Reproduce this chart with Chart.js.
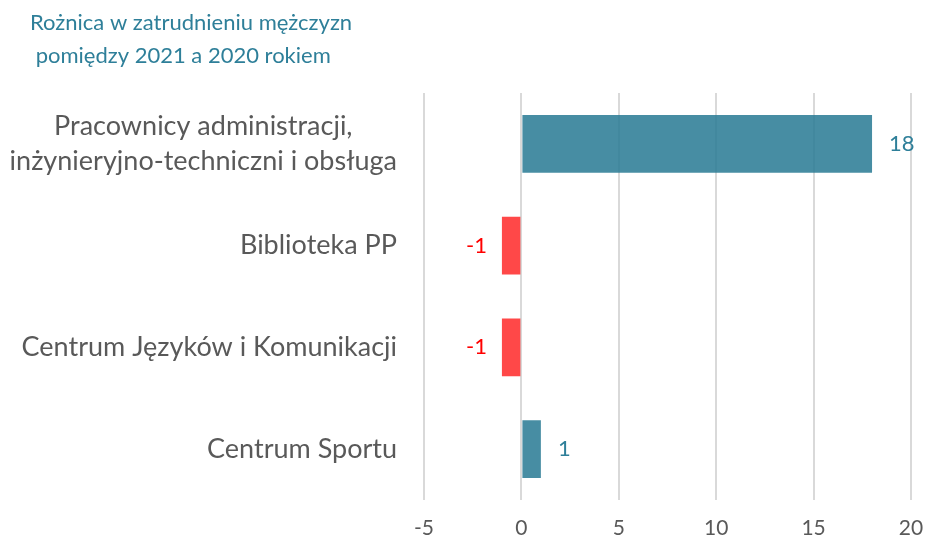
<!DOCTYPE html>
<html>
<head>
<meta charset="utf-8">
<script src="https://cdn.jsdelivr.net/npm/chart.js@4/dist/chart.umd.min.js"></script>
<style>
  html, body { margin: 0; padding: 0; background: #fff; }
  #wrap { width: 928px; height: 543px; position: relative; }
</style>
</head>
<body>
<div id="wrap"><canvas id="chart"></canvas></div>
<script>
// data
const categories = [
  ["Pracownicy administracji,", "inżynieryjno-techniczni i obsługa"],
  "Biblioteka PP",
  "Centrum Języków i Komunikacji",
  "Centrum Sportu"
];
const difference = [18, -1, -1, 1];
const titleLines = ["Rożnica w zatrudnieniu mężczyzn", " pomiędzy 2021 a 2020 rokiem"];

const TEAL = "rgba(39, 121, 147, 0.85)";
const RED = "rgba(255, 40, 40, 0.85)";

// value labels next to the bar ends
const valueLabels = {
  id: "valueLabels",
  afterDatasetsDraw(chart) {
    const ctx = chart.ctx;
    const meta = chart.getDatasetMeta(0);
    ctx.save();
    ctx.font = "22px Lato";
    ctx.textBaseline = "middle";
    meta.data.forEach((bar, i) => {
      const v = difference[i];
      if (v >= 0) {
        ctx.fillStyle = "#2E7F99";
        ctx.textAlign = "left";
        ctx.fillText(String(v), bar.x + 17, bar.y);
      } else {
        ctx.fillStyle = "#FF0000";
        ctx.textAlign = "right";
        ctx.fillText(String(v), bar.x - 15, bar.y);
      }
    });
    ctx.restore();
  }
};

// category labels: block right-aligned, lines centred within the block
const categoryLabels = {
  id: "categoryLabels",
  afterDraw(chart) {
    const ctx = chart.ctx;
    const y = chart.scales.y;
    const rightEdge = chart.chartArea.left - 27;
    const lineH = 35;
    ctx.save();
    ctx.font = "27px Lato";
    ctx.fillStyle = "#595959";
    ctx.textBaseline = "middle";
    ctx.textAlign = "center";
    categories.forEach((cat, i) => {
      const lines = Array.isArray(cat) ? cat : [cat];
      const w = Math.max(...lines.map(l => ctx.measureText(l).width));
      const cx = rightEdge - w / 2;
      const cy = y.getPixelForValue(i);
      lines.forEach((l, k) => {
        ctx.fillText(l, cx, cy + (k - (lines.length - 1) / 2) * lineH);
      });
    });
    ctx.restore();
  }
};

const ctx = document.getElementById("chart").getContext("2d");
new Chart(ctx, {
  type: "bar",
  data: {
    labels: categories,
    datasets: [{
      data: difference,
      backgroundColor: difference.map(v => v < 0 ? RED : TEAL),
      barPercentage: 0.57,
      categoryPercentage: 1
    }]
  },
  options: {
    indexAxis: "y",
    responsive: true,
    maintainAspectRatio: false,
    animation: false,
    layout: { padding: { left: 30, right: 17, top: 0, bottom: 0 } },
    plugins: {
      legend: { display: false },
      tooltip: { enabled: false },
      title: {
        display: true,
        text: titleLines,
        align: "start",
        color: "#2E7F99",
        font: { family: "Lato", size: 22, weight: "normal", lineHeight: 1.5 },
        padding: { top: 6, bottom: 21 }
      }
    },
    scales: {
      x: {
        min: -5,
        max: 20,
        ticks: { stepSize: 5, color: "#595959", font: { family: "Lato", size: 21 }, padding: 16 },
        grid: { color: "#D9D9D9", lineWidth: 2, drawTicks: false },
        border: { display: false },
        afterFit(scale) {
          scale.height = 43;
          scale.paddingLeft = 0;
          scale.paddingRight = 0;
        }
      },
      y: {
        ticks: { display: false },
        grid: { display: false, drawTicks: false },
        border: { display: false },
        afterFit(scale) { scale.width = 394; }
      }
    }
  },
  plugins: [valueLabels, categoryLabels]
});
</script>
</body>
</html>
